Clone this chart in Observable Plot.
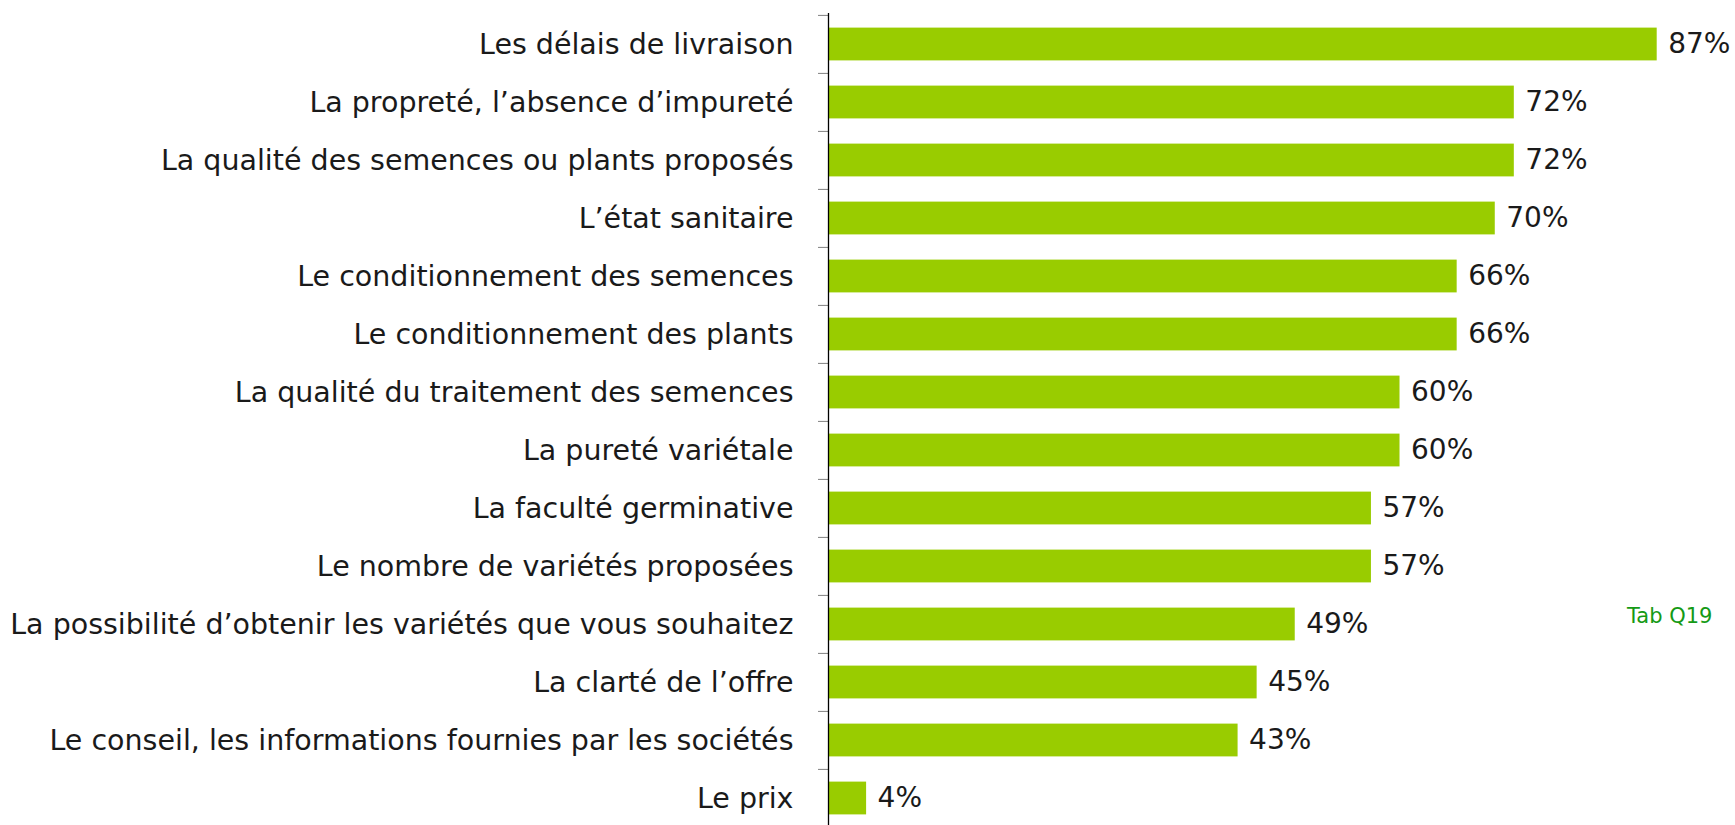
<!DOCTYPE html>
<html>
<head>
<meta charset="utf-8">
<script src="https://cdn.jsdelivr.net/npm/d3@7"></script>
<script src="https://cdn.jsdelivr.net/npm/@observablehq/plot@0.6"></script>
<style>
  html, body { margin: 0; padding: 0; background: #fff; }
  #wrap { position: relative; width: 1735px; height: 825px; }
  #note { position: absolute; left: 1627px; top: 604px; font-family: "DejaVu Sans", sans-serif; font-size: 21px; color: #159a15; }
</style>
</head>
<body>
<div id="wrap"><div id="note">Tab Q19</div></div>
<script>
const categories = [
  "Les délais de livraison",
  "La propreté, l’absence d’impureté",
  "La qualité des semences ou plants proposés",
  "L’état sanitaire",
  "Le conditionnement des semences",
  "Le conditionnement des plants",
  "La qualité du traitement des semences",
  "La pureté variétale",
  "La faculté germinative",
  "Le nombre de variétés proposées",
  "La possibilité d’obtenir les variétés que vous souhaitez",
  "La clarté de l’offre",
  "Le conseil, les informations fournies par les sociétés",
  "Le prix"
];
const values = [87, 72, 72, 70, 66, 66, 60, 60, 57, 57, 49, 45, 43, 4];
const data = categories.map((c, i) => ({category: c, value: values[i]}));

const yTop = 13, yBottom = 828;
const step = (yBottom - yTop) / categories.length;

const chart = Plot.plot({
  width: 1735,
  height: 825,
  marginLeft: 828,
  marginRight: 0,
  marginTop: 13,
  marginBottom: 0,
  style: {fontFamily: "DejaVu Sans, sans-serif", background: "transparent"},
  x: {domain: [0, 87], range: [828, 1656.7], axis: null},
  y: {domain: categories, range: [yTop, yBottom], padding: 0, label: null},
  marks: [
    Plot.barX(data, {x: "value", y: "category", fill: "#99cc00", insetTop: 12.6, insetBottom: 12.6}),
    Plot.axisY({tickSize: 10, tickFormat: () => "", stroke: "#808080", dy: -step / 2}),
    Plot.axisY({tickSize: 0, tickPadding: 35, fontSize: 28.5, fill: "#1a1a1a"}),
    Plot.ruleX([0], {stroke: "#000", strokeWidth: 1.3}),
    Plot.text(data, {x: "value", y: "category", text: d => d.value + "%", textAnchor: "start", dx: 11, fontSize: 28, fill: "#1a1a1a", style: "letter-spacing: 2px"})
  ]
});
document.getElementById("wrap").prepend(chart);
</script>
</body>
</html>
